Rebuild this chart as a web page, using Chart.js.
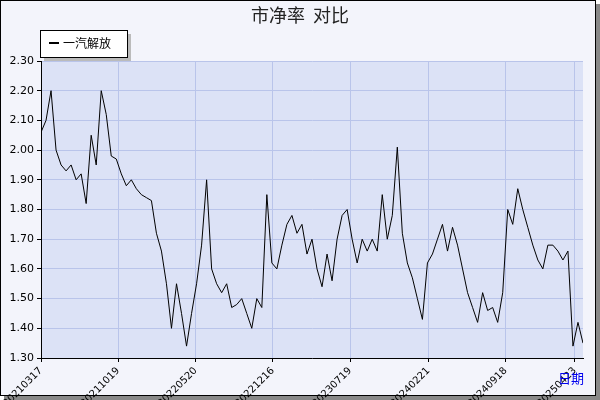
<!DOCTYPE html>
<html>
<head>
<meta charset="utf-8">
<script src="https://cdn.jsdelivr.net/npm/chart.js@4/dist/chart.umd.min.js"></script>
<style>
  body { margin: 0; background: #fff; }
  canvas { display: block; }
</style>
</head>
<body>
<canvas id="c" width="600" height="400"></canvas>
<script>
const seriesName = "一汽解放";
const pbValues = [
  2.06, 2.10, 2.20, 2.00, 1.95, 1.93, 1.95, 1.90, 1.92, 1.82, 2.05, 1.95, 2.20, 2.12, 1.98, 1.97,
  1.92, 1.88, 1.90, 1.87, 1.85, 1.84, 1.83, 1.72, 1.66, 1.55, 1.40, 1.55, 1.45, 1.34, 1.45, 1.55,
  1.68, 1.90, 1.60, 1.55, 1.52, 1.55, 1.47, 1.48, 1.50, 1.45, 1.40, 1.50, 1.47, 1.85, 1.62, 1.60,
  1.68, 1.75, 1.78, 1.72, 1.75, 1.65, 1.70, 1.60, 1.54, 1.65, 1.56, 1.70, 1.78, 1.80, 1.70, 1.62,
  1.70, 1.66, 1.70, 1.66, 1.85, 1.70, 1.78, 2.01, 1.72, 1.62, 1.57, 1.50, 1.43, 1.62, 1.65, 1.70,
  1.75, 1.66, 1.74, 1.68, 1.60, 1.52, 1.47, 1.42, 1.52, 1.46, 1.47, 1.42, 1.52, 1.80, 1.75, 1.87,
  1.80, 1.74, 1.68, 1.63, 1.60, 1.68, 1.68, 1.66, 1.63, 1.66, 1.34, 1.42, 1.35
];
const dateLabels = ["20210317", "20211019", "20220520", "20221216", "20230719", "20240221", "20240918", "20250423"];
const datePositions = [0, 15.4, 30.8, 46.2, 61.6, 77.2, 92.6, 106.4];

const decor = {
  id: "decor",
  beforeDraw(chart) {
    const ctx = chart.ctx, a = chart.chartArea;
    ctx.save();
    ctx.fillStyle = "#888";
    ctx.fillRect(4, 4, 596, 396);
    ctx.fillStyle = "#f3f4fb";
    ctx.fillRect(0, 0, 596, 396);
    ctx.strokeStyle = "#000";
    ctx.lineWidth = 1;
    ctx.strokeRect(0.5, 0.5, 595, 395);
    ctx.fillStyle = "#dce2f6";
    ctx.fillRect(a.left, a.top, a.right - a.left, a.bottom - a.top);
    ctx.restore();
  },
  afterDraw(chart) {
    const ctx = chart.ctx;
    ctx.save();
    ctx.fillStyle = "#222";
    ctx.font = "18px 'Noto Sans CJK SC'";
    ctx.textAlign = "center";
    ctx.textBaseline = "middle";
    ctx.fillText("市净率  对比", 300, 15);
    // legend
    ctx.fillStyle = "#bbb";
    ctx.fillRect(44, 34, 87, 27);
    ctx.fillStyle = "#fff";
    ctx.fillRect(40, 30, 87, 27);
    ctx.strokeStyle = "#000";
    ctx.strokeRect(40.5, 30.5, 87, 27);
    ctx.beginPath();
    ctx.moveTo(49, 43); ctx.lineTo(59, 43); ctx.lineWidth = 2; ctx.stroke();
    ctx.fillStyle = "#000";
    ctx.font = "12px 'Noto Sans CJK SC'";
    ctx.textAlign = "left";
    ctx.fillText(seriesName, 63, 43);
    ctx.fillStyle = "#0000ee";
    ctx.font = "13px 'Noto Sans CJK SC'";
    ctx.fillText("日期", 558, 378);
    ctx.restore();
  }
};

new Chart(document.getElementById("c"), {
  type: "line",
  data: {
    datasets: [{
      label: seriesName,
      data: pbValues.map((v, i) => ({ x: i, y: v })),
      borderColor: "#000",
      borderWidth: 1,
      pointRadius: 0,
      tension: 0
    }]
  },
  options: {
    responsive: false,
    animation: false,
    layout: { padding: { top: 61, right: 17, left: 0, bottom: 0 } },
    plugins: { legend: { display: false }, tooltip: { enabled: false } },
    scales: {
      x: {
        type: "linear",
        min: 0,
        max: 108,
        afterBuildTicks(s) { s.ticks = datePositions.map(v => ({ value: v })); },
        afterFit(s) { s.height = 42; },
        ticks: {
          autoSkip: false,
          minRotation: 45,
          maxRotation: 45,
          color: "#000",
          font: { size: 10, family: "DejaVu Sans" },
          callback: (v, i) => dateLabels[i]
        },
        grid: { color: "#b9c4ea", tickColor: "#000", tickLength: 4 },
        border: { color: "#000" }
      },
      y: {
        min: 1.3,
        max: 2.3,
        afterFit(s) { s.width = 41; },
        ticks: {
          stepSize: 0.1,
          color: "#000",
          font: { size: 11, family: "DejaVu Sans" },
          callback: v => v.toFixed(2)
        },
        grid: { color: "#b9c4ea", tickColor: "#000", tickLength: 4 },
        border: { color: "#000" }
      }
    }
  },
  plugins: [decor]
});
</script>
</body>
</html>
